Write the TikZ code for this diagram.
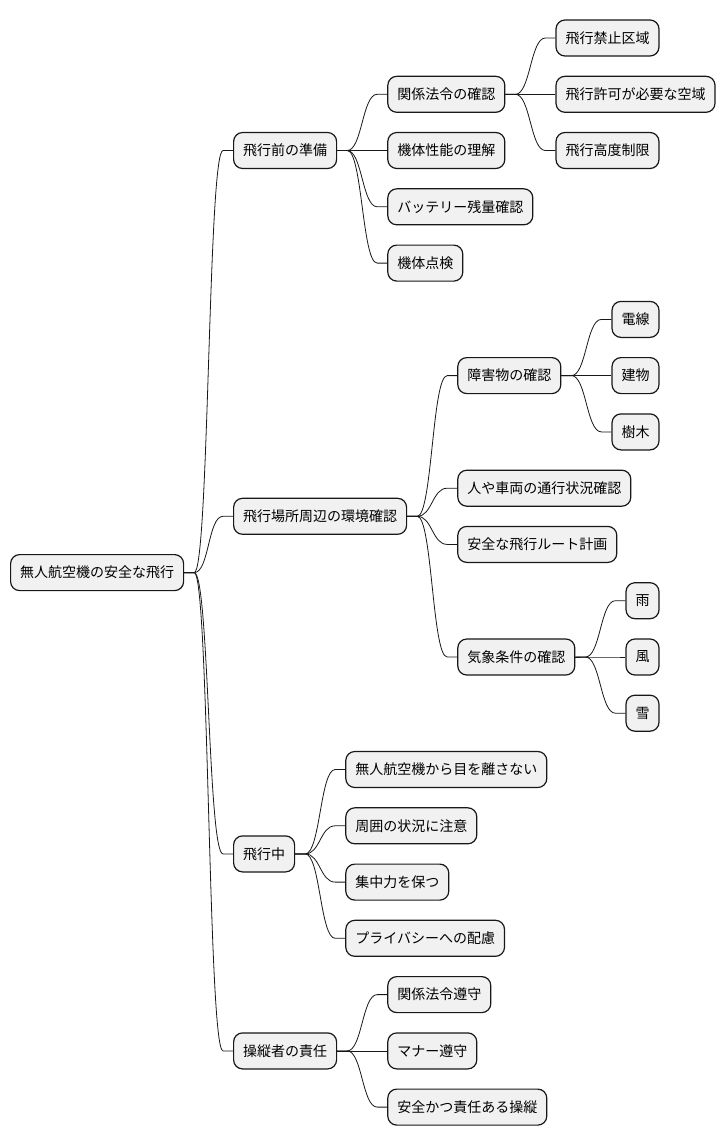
\documentclass[tikz,border=0pt]{standalone}
\usepackage{fontspec}
\newfontfamily\cjk{Noto Sans CJK JP}
\usetikzlibrary{calc}
\definecolor{boxfill}{HTML}{F1F1F1}
\definecolor{ink}{HTML}{181818}
\tikzset{
  box/.style={draw=ink, fill=boxfill, rounded corners=9pt, line width=1.2pt,
    inner xsep=9.5pt, inner ysep=0pt, minimum height=36pt, anchor=west,
    font=\cjk\fontsize{14}{14}\selectfont, text=black},
  link/.style={draw=ink, line width=0.8pt,
    to path={-- ++(10,0) .. controls +(15,0) and ($(\tikztotarget)+(-25,0)$) .. ($(\tikztotarget)+(-10,0)$) -- (\tikztotarget)}}
}
\begin{document}
\begin{tikzpicture}[x=1pt,y=-1pt]
\useasboundingbox[fill=white] (0,0) rectangle (726,1146);
% root
\node[box] (r) at (10,572.6) {無人航空機の安全な飛行};
% level 1
\node[box] (a) at (233,150.5) {飛行前の準備};
\node[box] (b) at (233,516.3) {飛行場所周辺の環境確認};
\node[box] (c) at (233,853.9) {飛行中};
\node[box] (d) at (233,1050.9) {操縦者の責任};
% under a
\node[box] (a1) at ([xshift=50pt]a.east |- 0,94.3) {関係法令の確認};
\node[box] (a2) at ([xshift=50pt]a.east |- 0,150.5) {機体性能の理解};
\node[box] (a3) at ([xshift=50pt]a.east |- 0,206.8) {バッテリー残量確認};
\node[box] (a4) at ([xshift=50pt]a.east |- 0,263.1) {機体点検};
\node[box] (a11) at ([xshift=50pt]a1.east |- 0,38) {飛行禁止区域};
\node[box] (a12) at ([xshift=50pt]a1.east |- 0,94.3) {飛行許可が必要な空域};
\node[box] (a13) at ([xshift=50pt]a1.east |- 0,150.5) {飛行高度制限};
% under b
\node[box] (b1) at ([xshift=50pt]b.east |- 0,375.6) {障害物の確認};
\node[box] (b2) at ([xshift=50pt]b.east |- 0,488.2) {人や車両の通行状況確認};
\node[box] (b3) at ([xshift=50pt]b.east |- 0,544.4) {安全な飛行ルート計画};
\node[box] (b4) at ([xshift=50pt]b.east |- 0,657) {気象条件の確認};
\node[box] (b11) at ([xshift=50pt]b1.east |- 0,319.4) {電線};
\node[box] (b12) at ([xshift=50pt]b1.east |- 0,375.6) {建物};
\node[box] (b13) at ([xshift=50pt]b1.east |- 0,431.9) {樹木};
\node[box] (b41) at ([xshift=50pt]b4.east |- 0,600.7) {雨};
\node[box] (b42) at ([xshift=50pt]b4.east |- 0,657) {風};
\node[box] (b43) at ([xshift=50pt]b4.east |- 0,713.2) {雪};
% under c
\node[box] (c1) at ([xshift=50pt]c.east |- 0,769.5) {無人航空機から目を離さない};
\node[box] (c2) at ([xshift=50pt]c.east |- 0,825.8) {周囲の状況に注意};
\node[box] (c3) at ([xshift=50pt]c.east |- 0,882.1) {集中力を保つ};
\node[box] (c4) at ([xshift=50pt]c.east |- 0,938.3) {プライバシーへの配慮};
% under d
\node[box] (d1) at ([xshift=50pt]d.east |- 0,994.6) {関係法令遵守};
\node[box] (d2) at ([xshift=50pt]d.east |- 0,1050.9) {マナー遵守};
\node[box] (d3) at ([xshift=50pt]d.east |- 0,1107.1) {安全かつ責任ある操縦};
% connectors
\foreach \p/\q in {r/a,r/b,r/c,r/d,
  a/a1,a/a2,a/a3,a/a4,a1/a11,a1/a12,a1/a13,
  b/b1,b/b2,b/b3,b/b4,b1/b11,b1/b12,b1/b13,b4/b41,b4/b42,b4/b43,
  c/c1,c/c2,c/c3,c/c4,d/d1,d/d2,d/d3}
  \draw[link] (\p.east) to (\q.west);
\end{tikzpicture}
\end{document}
